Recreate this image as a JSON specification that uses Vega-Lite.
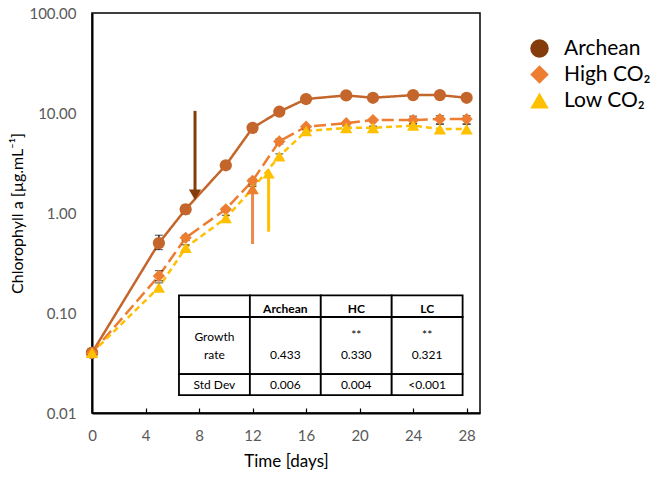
{
  "$schema": "https://vega.github.io/schema/vega-lite/v6.json",
  "width": 388,
  "height": 400,
  "autosize": {"type": "none"},
  "padding": {"left": 92, "top": 13, "right": 182, "bottom": 70},
  "config": {
    "font": "Lato",
    "view": {"stroke": "#000", "strokeWidth": 1.5},
    "axis": {"grid": false}
  },
  "datasets": {
    "growth": [
      {"series": "Archean", "day": 0, "value": 0.04, "lo": 0.039, "hi": 0.041},
      {"series": "Archean", "day": 5, "value": 0.5, "lo": 0.43, "hi": 0.6},
      {"series": "Archean", "day": 7, "value": 1.09, "lo": 0.98, "hi": 1.2},
      {"series": "Archean", "day": 10, "value": 3.0, "lo": 2.88, "hi": 3.12},
      {"series": "Archean", "day": 12, "value": 7.1, "lo": 6.9, "hi": 7.3},
      {"series": "Archean", "day": 14, "value": 10.3, "lo": 10.1, "hi": 10.5},
      {"series": "Archean", "day": 16, "value": 13.8, "lo": 13.6, "hi": 14.0},
      {"series": "Archean", "day": 19, "value": 15.0, "lo": 14.8, "hi": 15.2},
      {"series": "Archean", "day": 21, "value": 14.2, "lo": 14.0, "hi": 14.4},
      {"series": "Archean", "day": 24, "value": 15.1, "lo": 14.9, "hi": 15.3},
      {"series": "Archean", "day": 26, "value": 15.1, "lo": 14.9, "hi": 15.3},
      {"series": "Archean", "day": 28, "value": 14.2, "lo": 14.0, "hi": 14.4},
      {"series": "High CO₂", "day": 0, "value": 0.04, "lo": 0.039, "hi": 0.041},
      {"series": "High CO₂", "day": 5, "value": 0.235, "lo": 0.21, "hi": 0.265},
      {"series": "High CO₂", "day": 7, "value": 0.565, "lo": 0.53, "hi": 0.6},
      {"series": "High CO₂", "day": 10, "value": 1.09, "lo": 1.05, "hi": 1.13},
      {"series": "High CO₂", "day": 12, "value": 2.1, "lo": 1.95, "hi": 2.2},
      {"series": "High CO₂", "day": 14, "value": 5.2, "lo": 4.9, "hi": 5.5},
      {"series": "High CO₂", "day": 16, "value": 7.3, "lo": 7.1, "hi": 7.5},
      {"series": "High CO₂", "day": 19, "value": 7.9, "lo": 7.7, "hi": 8.1},
      {"series": "High CO₂", "day": 21, "value": 8.5, "lo": 8.2, "hi": 8.8},
      {"series": "High CO₂", "day": 24, "value": 8.5, "lo": 7.8, "hi": 9.3},
      {"series": "High CO₂", "day": 26, "value": 8.7, "lo": 7.8, "hi": 9.4},
      {"series": "High CO₂", "day": 28, "value": 8.7, "lo": 7.8, "hi": 9.4},
      {"series": "Low CO₂", "day": 0, "value": 0.04, "lo": 0.039, "hi": 0.041},
      {"series": "Low CO₂", "day": 5, "value": 0.18, "lo": 0.17, "hi": 0.2},
      {"series": "Low CO₂", "day": 7, "value": 0.45, "lo": 0.43, "hi": 0.48},
      {"series": "Low CO₂", "day": 10, "value": 0.89, "lo": 0.84, "hi": 0.95},
      {"series": "Low CO₂", "day": 12, "value": 1.75, "lo": 1.65, "hi": 1.85},
      {"series": "Low CO₂", "day": 14, "value": 3.7, "lo": 3.5, "hi": 3.9},
      {"series": "Low CO₂", "day": 16, "value": 6.6, "lo": 6.4, "hi": 6.8},
      {"series": "Low CO₂", "day": 19, "value": 7.1, "lo": 6.8, "hi": 7.4},
      {"series": "Low CO₂", "day": 21, "value": 7.1, "lo": 6.8, "hi": 7.4},
      {"series": "Low CO₂", "day": 24, "value": 7.5, "lo": 7.2, "hi": 7.8},
      {"series": "Low CO₂", "day": 26, "value": 6.9, "lo": 6.3, "hi": 7.7},
      {"series": "Low CO₂", "day": 28, "value": 6.9, "lo": 6.3, "hi": 7.7}
    ],
    "arrows": [
      {"series": "Archean", "x": 7.7, "from": 10.5, "to": 1.65, "head": 1.52, "dir": "down"},
      {"series": "High CO₂", "x": 12.0, "from": 0.49, "to": 1.6, "head": 1.74, "dir": "up"},
      {"series": "Low CO₂", "x": 13.2, "from": 0.65, "to": 2.3, "head": 2.5, "dir": "up"}
    ],
    "cells": [
      {"x1": 6.5, "x2": 11.8, "y1": 0.0912, "y2": 0.15},
      {"x1": 11.8, "x2": 17.1, "y1": 0.0912, "y2": 0.15},
      {"x1": 17.1, "x2": 22.4, "y1": 0.0912, "y2": 0.15},
      {"x1": 22.4, "x2": 27.7, "y1": 0.0912, "y2": 0.15},
      {"x1": 6.5, "x2": 11.8, "y1": 0.0245, "y2": 0.0912},
      {"x1": 11.8, "x2": 17.1, "y1": 0.0245, "y2": 0.0912},
      {"x1": 17.1, "x2": 22.4, "y1": 0.0245, "y2": 0.0912},
      {"x1": 22.4, "x2": 27.7, "y1": 0.0245, "y2": 0.0912},
      {"x1": 6.5, "x2": 11.8, "y1": 0.0151, "y2": 0.0245},
      {"x1": 11.8, "x2": 17.1, "y1": 0.0151, "y2": 0.0245},
      {"x1": 17.1, "x2": 22.4, "y1": 0.0151, "y2": 0.0245},
      {"x1": 22.4, "x2": 27.7, "y1": 0.0151, "y2": 0.0245}
    ],
    "cellText": [
      {"x": 14.45, "y": 0.109, "text": "Archean", "bold": true},
      {"x": 19.75, "y": 0.109, "text": "HC", "bold": true},
      {"x": 25.05, "y": 0.109, "text": "LC", "bold": true},
      {"x": 9.15, "y": 0.0569, "text": "Growth", "bold": false},
      {"x": 9.15, "y": 0.0379, "text": "rate", "bold": false},
      {"x": 14.45, "y": 0.0379, "text": "0.433", "bold": false},
      {"x": 19.75, "y": 0.06, "text": "**", "bold": false},
      {"x": 19.75, "y": 0.0379, "text": "0.330", "bold": false},
      {"x": 25.05, "y": 0.06, "text": "**", "bold": false},
      {"x": 25.05, "y": 0.0379, "text": "0.321", "bold": false},
      {"x": 9.15, "y": 0.019, "text": "Std Dev", "bold": false},
      {"x": 14.45, "y": 0.019, "text": "0.006", "bold": false},
      {"x": 19.75, "y": 0.019, "text": "0.004", "bold": false},
      {"x": 25.05, "y": 0.019, "text": "<0.001", "bold": false}
    ]
  },
  "layer": [
    {
      "data": {"name": "growth"},
      "transform": [{"filter": "datum.day === 0"}],
      "mark": {"type": "point", "filled": true, "opacity": 1, "size": 150},
      "encoding": {
        "x": {
          "field": "day", "type": "quantitative",
          "scale": {"domain": [0, 29], "nice": false},
          "axis": {
            "values": [0,2,4,6,8,10,12,14,16,18,20,22,24,26,28],
            "title": "Time [days]",
            "domainColor": "#000", "domainWidth": 2,
            "tickColor": "#000", "tickWidth": 1.2, "tickSize": -5,
            "labelFontSize": 15, "labelColor": "#595959", "labelPadding": 20,
            "labelOverlap": false, "labelFlush": false,
            "titleFontSize": 17, "titleFontWeight": "normal", "titleColor": "#000", "titlePadding": 10
          }
        },
        "y": {
          "field": "value", "type": "quantitative",
          "scale": {"type": "log", "domain": [0.01, 100], "nice": false},
          "title": "Chlorophyll a [µg.mL⁻¹]",
          "axis": {
            "values": [0.01, 0.1, 1, 10, 100],
            "format": ".2f",
            "ticks": false,
            "domainColor": "#000", "domainWidth": 2,
            "labelFontSize": 15, "labelColor": "#595959", "labelPadding": 16,
            "titleFontSize": 16, "titleFontWeight": "normal", "titleColor": "#000", "titlePadding": 3
          }
        },
        "fill": {
          "field": "series", "type": "nominal",
          "scale": {"domain": ["Archean", "High CO₂", "Low CO₂"], "range": ["#843C0C", "#ED7D31", "#FFC000"]},
          "legend": {"title": null, "orient": "right", "offset": 24, "padding": 25, "symbolSize": 340, "labelFontSize": 21, "labelColor": "#000", "rowPadding": 4, "labelOffset": 14, "symbolStrokeWidth": 0}
        },
        "shape": {
          "field": "series", "type": "nominal",
          "scale": {"domain": ["Archean", "High CO₂", "Low CO₂"], "range": ["circle", "diamond", "triangle-up"]},
          "legend": {"title": null, "orient": "right", "offset": 24, "padding": 25, "symbolSize": 340, "labelFontSize": 21, "labelColor": "#000", "rowPadding": 4, "labelOffset": 14, "symbolStrokeWidth": 0}
        }
      }
    },
    {
      "data": {"name": "growth"},
      "mark": {"type": "line", "strokeWidth": 2.5},
      "encoding": {
        "x": {"field": "day", "type": "quantitative"},
        "y": {"field": "value", "type": "quantitative", "title": "Chlorophyll a [µg.mL⁻¹]"},
        "color": {
          "field": "series", "type": "nominal",
          "scale": {"domain": ["Archean", "High CO₂", "Low CO₂"], "range": ["#C4662B", "#ED7D31", "#FFC000"]},
          "legend": null
        },
        "strokeDash": {
          "field": "series", "type": "nominal",
          "scale": {"domain": ["Archean", "High CO₂", "Low CO₂"], "range": [[1, 0], [12, 5], [6, 4]]},
          "legend": null
        }
      }
    },
    {
      "data": {"name": "growth"},
      "mark": {"type": "errorbar", "ticks": {"size": 8, "color": "#000", "strokeWidth": 1.3}, "rule": {"color": "#000", "strokeWidth": 1.3}},
      "encoding": {
        "x": {"field": "day", "type": "quantitative"},
        "y": {"field": "lo", "type": "quantitative", "title": "Chlorophyll a [µg.mL⁻¹]"},
        "y2": {"field": "hi"}
      }
    },
    {
      "data": {"name": "growth"},
      "mark": {"type": "point", "filled": true, "opacity": 1, "size": 150},
      "encoding": {
        "x": {"field": "day", "type": "quantitative"},
        "y": {"field": "value", "type": "quantitative", "title": "Chlorophyll a [µg.mL⁻¹]"},
        "color": {"field": "series", "type": "nominal", "legend": null},
        "shape": {"field": "series", "type": "nominal"}
      }
    },
    {
      "data": {"name": "arrows"},
      "mark": {"type": "rule", "strokeWidth": 3},
      "encoding": {
        "x": {"field": "x", "type": "quantitative"},
        "y": {"field": "from", "type": "quantitative", "title": "Chlorophyll a [µg.mL⁻¹]"},
        "y2": {"field": "to"},
        "stroke": {
          "field": "series", "type": "nominal",
          "scale": {"domain": ["Archean", "High CO₂", "Low CO₂"], "range": ["#843C0C", "#EA8A4C", "#FFC000"]},
          "legend": null
        }
      }
    },
    {
      "data": {"name": "arrows"},
      "transform": [{"filter": "datum.dir === 'down'"}],
      "mark": {"type": "point", "filled": true, "opacity": 1, "shape": "triangle-down", "size": 150},
      "encoding": {
        "x": {"field": "x", "type": "quantitative"},
        "y": {"field": "head", "type": "quantitative", "title": "Chlorophyll a [µg.mL⁻¹]"},
        "fill": {"field": "series", "type": "nominal"}
      }
    },
    {
      "data": {"name": "arrows"},
      "transform": [{"filter": "datum.dir === 'up'"}],
      "mark": {"type": "point", "filled": true, "opacity": 1, "shape": "triangle-up", "size": 150},
      "encoding": {
        "x": {"field": "x", "type": "quantitative"},
        "y": {"field": "head", "type": "quantitative", "title": "Chlorophyll a [µg.mL⁻¹]"},
        "fill": {"field": "series", "type": "nominal"}
      }
    },
    {
      "data": {"name": "cells"},
      "mark": {"type": "rect", "fill": "#fff", "stroke": "#000", "strokeWidth": 1.8},
      "encoding": {
        "x": {"field": "x1", "type": "quantitative"},
        "x2": {"field": "x2"},
        "y": {"field": "y1", "type": "quantitative", "title": "Chlorophyll a [µg.mL⁻¹]"},
        "y2": {"field": "y2"}
      }
    },
    {
      "data": {"name": "cellText"},
      "transform": [{"filter": "datum.bold"}],
      "mark": {"type": "text", "fontSize": 12, "fontWeight": "bold", "color": "#000", "baseline": "middle", "align": "center"},
      "encoding": {
        "x": {"field": "x", "type": "quantitative"},
        "y": {"field": "y", "type": "quantitative", "title": "Chlorophyll a [µg.mL⁻¹]"},
        "text": {"field": "text"}
      }
    },
    {
      "data": {"name": "cellText"},
      "transform": [{"filter": "!datum.bold"}],
      "mark": {"type": "text", "fontSize": 12, "color": "#000", "baseline": "middle", "align": "center"},
      "encoding": {
        "x": {"field": "x", "type": "quantitative"},
        "y": {"field": "y", "type": "quantitative", "title": "Chlorophyll a [µg.mL⁻¹]"},
        "text": {"field": "text"}
      }
    }
  ]
}
